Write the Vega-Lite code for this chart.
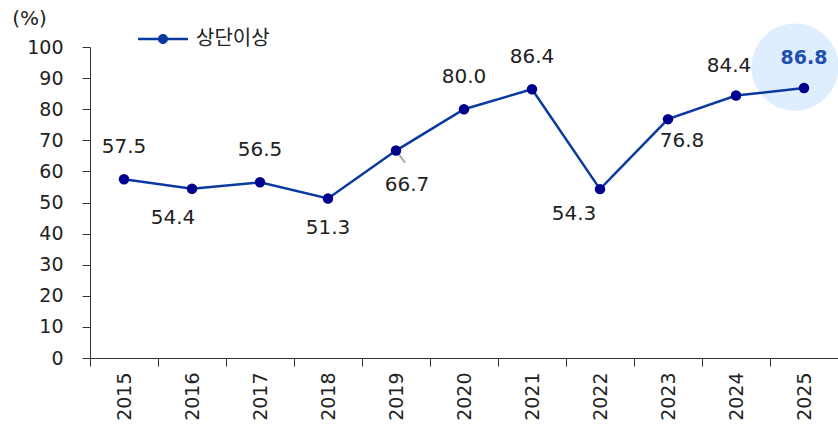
{
  "$schema": "https://vega.github.io/schema/vega-lite/v6.json",
  "width": 748,
  "height": 311,
  "autosize": {"type": "none"},
  "padding": {"left": 90, "top": 47, "right": 0, "bottom": 68},
  "background": "white",
  "config": {
    "view": {"stroke": null},
    "font": "DejaVu Sans",
    "axis": {"labelFont": "DejaVu Sans", "titleFont": "DejaVu Sans"}
  },
  "data": {
    "values": [
      {"year": "2015", "value": 57.5, "pos": "up"},
      {"year": "2016", "value": 54.4, "pos": "downLeft"},
      {"year": "2017", "value": 56.5, "pos": "up"},
      {"year": "2018", "value": 51.3, "pos": "down"},
      {"year": "2019", "value": 66.7, "pos": "leader"},
      {"year": "2020", "value": 80.0, "pos": "up"},
      {"year": "2021", "value": 86.4, "pos": "up"},
      {"year": "2022", "value": 54.3, "pos": "downLeft2"},
      {"year": "2023", "value": 76.8, "pos": "downRight"},
      {"year": "2024", "value": 84.4, "pos": "upLeft"},
      {"year": "2025", "value": 86.8, "pos": "highlight"}
    ]
  },
  "encoding": {
    "x": {
      "field": "year", "type": "ordinal",
      "scale": {"paddingInner": 0, "paddingOuter": 0},
      "axis": {
        "title": null, "labelAngle": -90, "labelFontSize": 19, "labelColor": "#222",
        "tickBand": "extent", "tickSize": 8, "tickColor": "#333", "domainColor": "#333",
        "labelPadding": 6, "labelAlign": "right", "labelBaseline": "middle"
      }
    },
    "y": {
      "field": "value", "type": "quantitative",
      "scale": {"domain": [0, 100], "nice": false},
      "axis": {
        "title": "(%)", "titleAngle": 0, "titleFontSize": 20, "titleFontWeight": "normal",
        "titleColor": "#222", "titleX": -61, "titleY": -29, "titleAlign": "center", "titleBaseline": "middle",
        "values": [0, 10, 20, 30, 40, 50, 60, 70, 80, 90, 100],
        "grid": false, "labelFontSize": 19, "labelColor": "#222", "tickSize": 8,
        "tickColor": "#333", "domainColor": "#333", "labelPadding": 19
      }
    }
  },
  "layer": [
    {
      "transform": [{"filter": "datum.pos === 'highlight'"}],
      "mark": {"type": "point", "filled": true, "shape": "circle", "size": 7600, "color": "#deeeff", "opacity": 1, "xOffset": -9, "yOffset": -21}
    },
    {
      "transform": [{"filter": "datum.pos === 'leader'"}],
      "mark": {"type": "rule", "color": "#aaaaaa", "strokeWidth": 2, "x2Offset": 9, "y2Offset": 12},
      "encoding": {
        "x2": {"field": "year"},
        "y2": {"field": "value"}
      }
    },
    {
      "mark": {"type": "line", "color": "#0a3aa0", "strokeWidth": 2.5},
      "encoding": {
        "color": {
          "datum": "상단이상",
          "scale": {"range": ["#0a3aa0"]},
          "legend": {
            "title": null, "orient": "none", "legendX": 48, "legendY": -33,
            "labelFontSize": 20, "labelColor": "#222", "labelFont": "Noto Sans CJK KR",
            "symbolType": "M-1,-0.05 L1,-0.05 L1,0.05 L-1,0.05 Z M0.2,0 A0.2,0.2 0 1,1 -0.2,0 A0.2,0.2 0 1,1 0.2,0 Z",
            "symbolSize": 2500, "symbolFillColor": "#0a3aa0", "symbolStrokeWidth": 0,
            "symbolStrokeColor": "#0a3aa0", "labelOffset": 8
          }
        }
      }
    },
    {
      "mark": {"type": "point", "filled": true, "shape": "circle", "size": 110, "color": "#00008f", "opacity": 1}
    },
    {
      "transform": [{"filter": "datum.pos === 'up'"}],
      "mark": {"type": "text", "fontSize": 20, "color": "#222", "dy": -32},
      "encoding": {"text": {"field": "value", "format": ".1f"}}
    },
    {
      "transform": [{"filter": "datum.pos === 'upLeft'"}],
      "mark": {"type": "text", "fontSize": 20, "color": "#222", "dy": -30, "dx": -7},
      "encoding": {"text": {"field": "value", "format": ".1f"}}
    },
    {
      "transform": [{"filter": "datum.pos === 'down'"}],
      "mark": {"type": "text", "fontSize": 20, "color": "#222", "dy": 30},
      "encoding": {"text": {"field": "value", "format": ".1f"}}
    },
    {
      "transform": [{"filter": "datum.pos === 'downLeft'"}],
      "mark": {"type": "text", "fontSize": 20, "color": "#222", "dy": 29, "dx": -19},
      "encoding": {"text": {"field": "value", "format": ".1f"}}
    },
    {
      "transform": [{"filter": "datum.pos === 'downLeft2'"}],
      "mark": {"type": "text", "fontSize": 20, "color": "#222", "dy": 25, "dx": -26},
      "encoding": {"text": {"field": "value", "format": ".1f"}}
    },
    {
      "transform": [{"filter": "datum.pos === 'downRight'"}],
      "mark": {"type": "text", "fontSize": 20, "color": "#222", "dy": 22, "dx": 14},
      "encoding": {"text": {"field": "value", "format": ".1f"}}
    },
    {
      "transform": [{"filter": "datum.pos === 'leader'"}],
      "mark": {"type": "text", "fontSize": 20, "color": "#222", "dy": 34, "dx": 11},
      "encoding": {"text": {"field": "value", "format": ".1f"}}
    },
    {
      "transform": [{"filter": "datum.pos === 'highlight'"}],
      "mark": {"type": "text", "fontSize": 19, "fontWeight": "bold", "color": "#1f4fb0", "dy": -30},
      "encoding": {"text": {"field": "value", "format": ".1f"}}
    }
  ]
}
